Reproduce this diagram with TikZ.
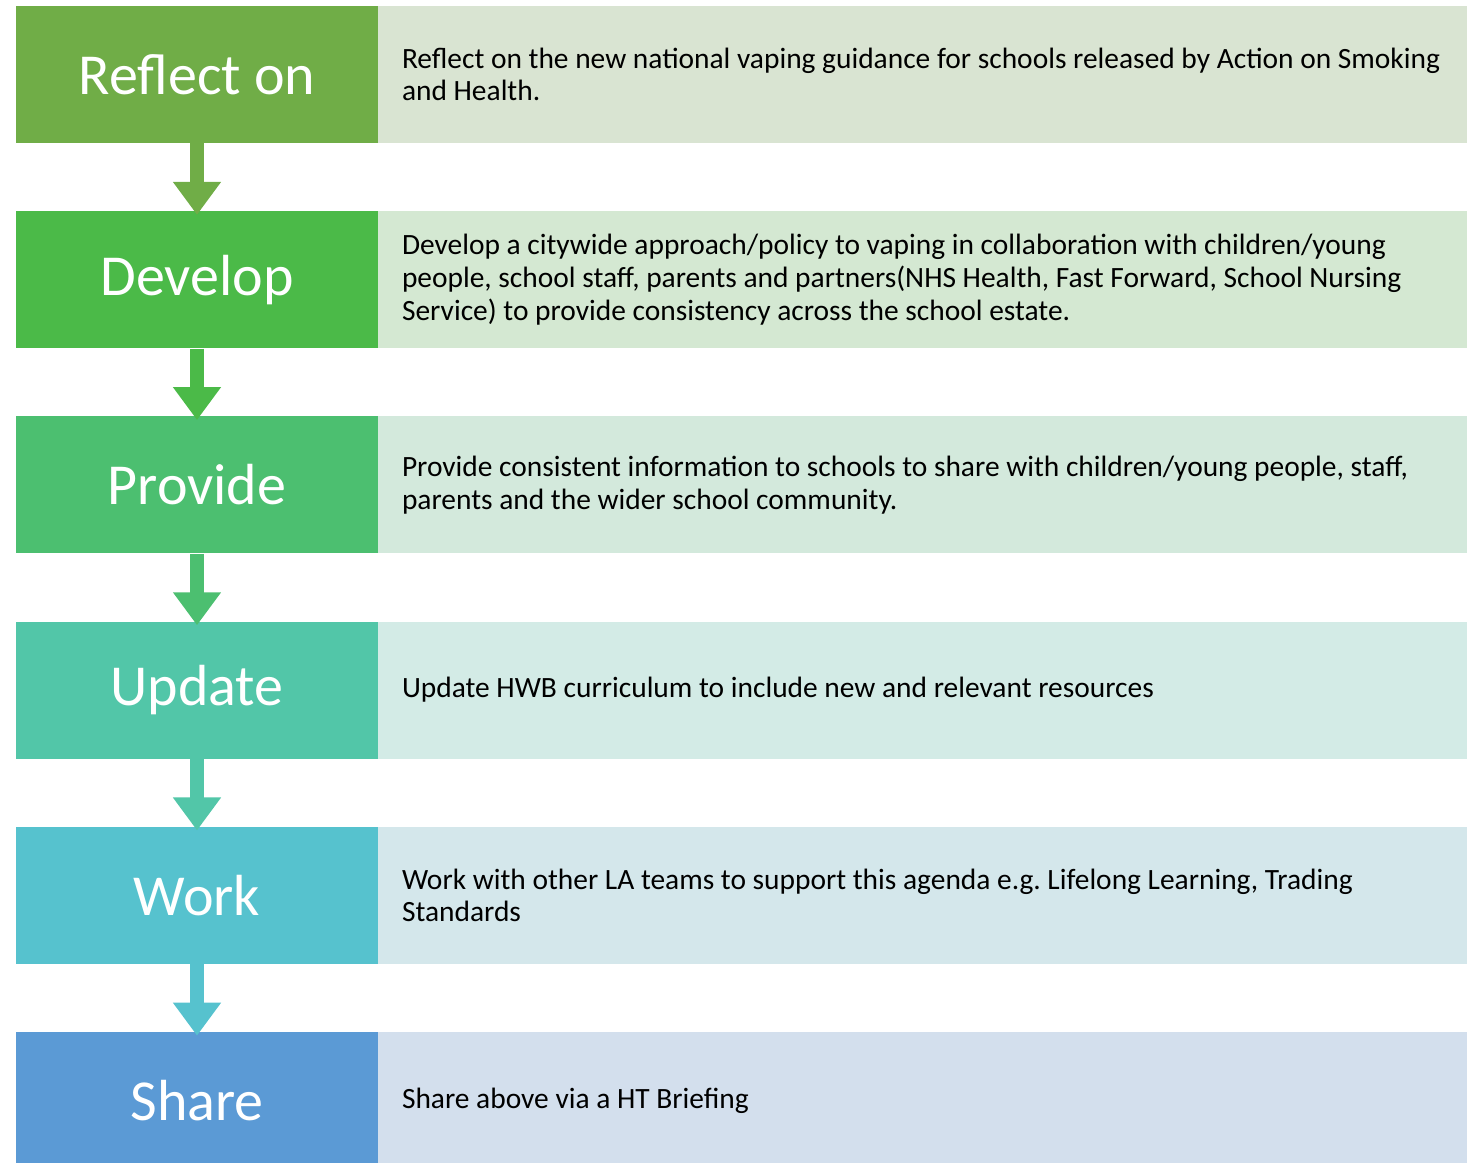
\documentclass[tikz,border=0pt]{standalone}
\usepackage{fontspec}
\setmainfont{Carlito}
\usetikzlibrary{arrows.meta}
\definecolor{reflectc}{RGB}{112,173,71}
\definecolor{developc}{RGB}{75,186,72}
\definecolor{providec}{RGB}{76,191,112}
\definecolor{updatec}{RGB}{82,198,168}
\definecolor{workc}{RGB}{86,194,206}
\definecolor{sharec}{RGB}{91,154,213}
\definecolor{reflectl}{RGB}{217,228,210}
\definecolor{developl}{RGB}{212,232,210}
\definecolor{providel}{RGB}{211,233,220}
\definecolor{updatel}{RGB}{211,235,230}
\definecolor{workl}{RGB}{212,231,235}
\definecolor{sharel}{RGB}{211,223,237}
\tikzset{%
    stage/.style={minimum width=7.24cm,minimum height=2.74cm,inner sep=0pt,text=white,font=\fontsize{33}{39}\selectfont},
    info/.style={minimum width=21.78cm,minimum height=2.74cm,text width=21.18cm,inner xsep=0.3cm,inner ysep=0pt,align=left,
        font=\fontsize{16.75}{18.6}\selectfont,
        execute at begin node={\leftskip=0.18cm\spaceskip=0.226em plus 0.1em minus 0.05em\xspaceskip=\spaceskip\relax}},
    flow/.style={line width=0.28cm,-{Triangle[width=0.92cm,length=0.66cm]},shorten >=-0.08cm}
}
\begin{document}
\begin{tikzpicture}
        \useasboundingbox (0,0) rectangle (29.46,-23.26);
        \clip (0,0) rectangle (29.46,-23.26);
        \node[stage,fill=reflectc] (reflect) at (3.94,-1.49){Reflect on};
        \node[stage,fill=developc] (develop) at (3.94,-5.594){Develop};
        \node[stage,fill=providec] (provide) at (3.94,-9.698){Provide};
        \node[stage,fill=updatec] (update) at (3.94,-13.802){Update};
        \node[stage,fill=workc] (work) at (3.94,-17.906){Work};
        \node[stage,fill=sharec] (share) at (3.94,-22.01){Share};
        \node[info,fill=reflectl] (reflecttxt) at (18.45,-1.49){Reflect on the new national vaping guidance for schools released by Action on Smoking\\and Health.};
        \node[info,fill=developl] (developtxt) at (18.45,-5.594){Develop a citywide approach/policy to vaping in collaboration with children/young\\people, school staff, parents and partners(NHS Health, Fast Forward, School Nursing\\Service) to provide consistency across the school estate.};
        \node[info,fill=providel] (providetxt) at (18.45,-9.698){Provide consistent information to schools to share with children/young people, staff,\\parents and the wider school community.};
        \node[info,fill=updatel] (updatetxt) at (18.45,-13.802){Update HWB curriculum to include new and relevant resources};
        \node[info,fill=workl] (worktxt) at (18.45,-17.906){Work with other LA teams to support this agenda e.g. Lifelong Learning, Trading\\Standards};
        \node[info,fill=sharel] (sharetxt) at (18.45,-22.01){Share above via a HT Briefing};
        \draw[flow,reflectc] (reflect) -- (develop);
        \draw[flow,developc] (develop) -- (provide);
        \draw[flow,providec] (provide) -- (update);
        \draw[flow,updatec] (update) -- (work);
        \draw[flow,workc] (work) -- (share);
    \end{tikzpicture}
\end{document}
